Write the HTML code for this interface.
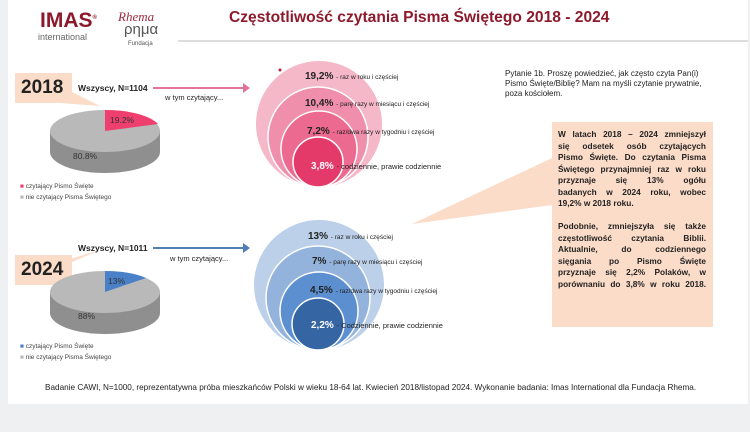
<!DOCTYPE html>
<html><head><meta charset="utf-8"><style>
body{margin:0;width:750px;height:432px;background:#eef0f2;overflow:hidden;font-family:"Liberation Sans",sans-serif}
#s{position:absolute;left:8px;top:0;width:740px;height:404px;background:#fff}
.a{position:absolute;white-space:nowrap}
.box{position:absolute;left:552px;top:122px;width:148px;height:192px;background:#fbdcc8;padding:7px 7px 6px 6px;font-size:8.3px;line-height:11.5px;color:#222;font-weight:bold}
.box div{text-align:justify;text-align-last:justify;white-space:nowrap;height:11.5px}
.box div.l{text-align-last:left}
</style></head><body>
<div id="s"></div>
<svg width="750" height="432" style="position:absolute;left:0;top:0">
<line x1="178" y1="41" x2="748" y2="41" stroke="#bbb" stroke-width="1"/>
<polygon points="15,73 72,73 72,103 15,103" fill="#fbdcc8"/>
<polygon points="60,103 72,92 100,106" fill="#fbdcc8"/>
<polygon points="15,255 72,255 72,285 15,285" fill="#fbdcc8"/>
<polygon points="60,262 72,262 100,250" fill="#fbdcc8"/>
<polygon points="552,158 552,205 412,224" fill="#fbdcc8"/>
<path d="M50,131 L50,152 A55,21 0 0 0 160,152 L160,131 Z" fill="#8f8f8f"/>
<ellipse cx="105" cy="131" rx="55" ry="21" fill="#b9b9b9"/>
<path d="M105,131 L105,110 A55,21 0 0 1 158,124 Z" fill="#ee3f6f"/>
<path d="M50,292 L50,313 A55,21 0 0 0 160,313 L160,292 Z" fill="#8f8f8f"/>
<ellipse cx="105" cy="292" rx="55" ry="21" fill="#b9b9b9"/>
<path d="M105,292 L105,271 A55,21 0 0 1 146,278 Z" fill="#4a80c8"/>
<line x1="153" y1="88" x2="243" y2="88" stroke="#e3739c" stroke-width="2"/>
<polygon points="243,83 250,88 243,93" fill="#e3739c"/>
<line x1="153" y1="248" x2="243" y2="248" stroke="#4f7fb6" stroke-width="2"/>
<polygon points="243,243 250,248 243,253" fill="#4f7fb6"/>
<circle cx="319" cy="124" r="63" fill="#f5b8c9"/>
<circle cx="318" cy="137" r="50" fill="#f08fab" stroke="#fff" stroke-width="1.5"/>
<circle cx="319" cy="149" r="38" fill="#ec6a8f" stroke="#fff" stroke-width="1.5"/>
<circle cx="318" cy="162" r="25" fill="#e43a6a" stroke="#fff" stroke-width="1.5"/>
<circle cx="280" cy="70" r="1.5" fill="#b02040"/>
<circle cx="319" cy="285" r="65" fill="#bcd0e9"/>
<circle cx="318" cy="298" r="52" fill="#93b3dc" stroke="#fff" stroke-width="1.5"/>
<circle cx="319" cy="311" r="39" fill="#5b8fd0" stroke="#fff" stroke-width="1.5"/>
<circle cx="318" cy="324" r="26" fill="#3565a3" stroke="#fff" stroke-width="1.5"/>
</svg>
<div class="a" style="left:40px;top:9px;font-size:21px;font-weight:bold;color:#8d1a2c">IMAS<sup style="font-size:6px">®</sup></div>
<div class="a" style="left:38px;top:32px;font-size:9px;color:#666">international</div>
<div class="a" style="left:118px;top:9px;font-size:13px;font-style:italic;color:#9b2a3c;font-family:'Liberation Serif',serif">Rhema</div>
<div class="a" style="left:124px;top:21px;font-size:15px;color:#555">ρημα</div>
<div class="a" style="left:128px;top:41px;font-size:6px;color:#555">Fundacja</div>
<div class="a" style="left:229px;top:9px;font-size:15.6px;font-weight:bold;color:#8d1a2c">Częstotliwość czytania Pisma Świętego 2018 - 2024</div>
<div class="a" style="left:21px;top:77px;font-size:19px;font-weight:bold;color:#222">2018</div>
<div class="a" style="left:21px;top:259px;font-size:19px;font-weight:bold;color:#222">2024</div>
<div class="a" style="left:78px;top:83px;font-size:8.5px;font-weight:bold;color:#222">Wszyscy, N=1104</div>
<div class="a" style="left:78px;top:243px;font-size:8.5px;font-weight:bold;color:#222">Wszyscy, N=1011</div>
<div class="a" style="left:165px;top:93px;font-size:7.5px;color:#222">w tym czytający...</div>
<div class="a" style="left:170px;top:254px;font-size:7.5px;color:#222">w tym czytający...</div>
<div class="a" style="left:110px;top:115px;font-size:8.5px;color:#333">19.2%</div>
<div class="a" style="left:73px;top:151px;font-size:8.5px;color:#333">80.8%</div>
<div class="a" style="left:108px;top:276px;font-size:8.5px;color:#333">13%</div>
<div class="a" style="left:78px;top:311px;font-size:8.5px;color:#333">88%</div>
<div class="a" style="left:20px;top:183px;font-size:6.5px;color:#444"><span style="color:#ee3f6f">■</span> czytający Pismo Święte</div>
<div class="a" style="left:20px;top:194px;font-size:6.5px;color:#444"><span style="color:#b9b9b9">■</span> nie czytający Pisma Świętego</div>
<div class="a" style="left:20px;top:343px;font-size:6.5px;color:#444"><span style="color:#4a80c8">■</span> czytający Pismo Święte</div>
<div class="a" style="left:20px;top:354px;font-size:6.5px;color:#444"><span style="color:#b9b9b9">■</span> nie czytający Pisma Świętego</div>
<div class="a" style="left:305px;top:71px;font-size:10px;color:#222"><b>19,2%</b> <span style="font-size:6.5px">- raz w roku i częściej</span></div>
<div class="a" style="left:305px;top:98px;font-size:10px;color:#222"><b>10,4%</b> <span style="font-size:6.5px">- parę razy w miesiącu i częściej</span></div>
<div class="a" style="left:307px;top:126px;font-size:10px;color:#222"><b>7,2%</b> <span style="font-size:6.5px">- raz/dwa razy w tygodniu i częściej</span></div>
<div class="a" style="left:311px;top:161px;font-size:10px;color:#222"><b style="color:#fff">3,8%</b> <span style="font-size:7.5px">- codziennie, prawie codziennie</span></div>
<div class="a" style="left:308px;top:231px;font-size:10px;color:#222"><b>13%</b> <span style="font-size:6.5px">- raz w roku i częściej</span></div>
<div class="a" style="left:312px;top:256px;font-size:10px;color:#222"><b>7%</b> <span style="font-size:6.5px">- parę razy w miesiącu i częściej</span></div>
<div class="a" style="left:310px;top:285px;font-size:10px;color:#222"><b>4,5%</b> <span style="font-size:6.5px">- raz/dwa razy w tygodniu i częściej</span></div>
<div class="a" style="left:311px;top:320px;font-size:10px;color:#222"><b style="color:#fff">2,2%</b> <span style="font-size:7.5px">- Codziennie, prawie codziennie</span></div>
<div class="a" style="left:505px;top:69px;font-size:8px;line-height:10px;color:#222;white-space:normal;width:200px">Pytanie 1b. Proszę powiedzieć, jak często czyta Pan(i) Pismo Święte/Biblię? Mam na myśli czytanie prywatnie, poza kościołem.</div>
<div class="box">
<div>W latach 2018 – 2024 zmniejszył</div>
<div>się odsetek osób czytających</div>
<div>Pismo Święte. Do czytania Pisma</div>
<div>Świętego przynajmniej raz w roku</div>
<div>przyznaje się 13% ogółu</div>
<div>badanych w 2024 roku, wobec</div>
<div class="l">19,2% w 2018 roku.</div>
<div class="l"></div>
<div>Podobnie, zmniejszyła się także</div>
<div>częstotliwość czytania Biblii.</div>
<div>Aktualnie, do codziennego</div>
<div>sięgania po Pismo Święte</div>
<div>przyznaje się 2,2% Polaków, w</div>
<div>porównaniu do 3,8% w roku 2018.</div>
</div>
<div class="a" style="left:45px;top:383px;font-size:8.2px;color:#222">Badanie CAWI, N=1000, reprezentatywna próba mieszkańców Polski w wieku 18-64 lat. Kwiecień 2018/listopad 2024. Wykonanie badania: Imas International dla Fundacja Rhema.</div>
</body></html>
